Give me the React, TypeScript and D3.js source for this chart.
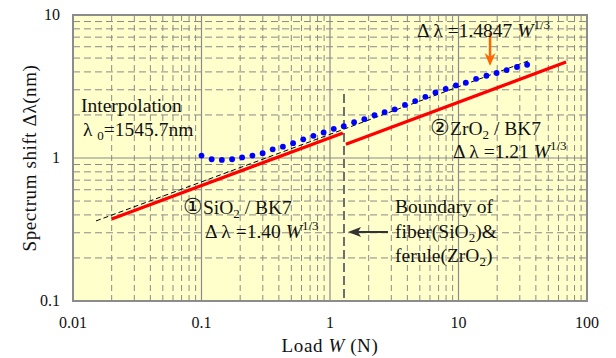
import * as d3 from 'd3'

// measured load points (N) and spectrum shift (nm)
const loadW = [0.1, 0.12, 0.144, 0.173, 0.207, 0.249, 0.299, 0.358, 0.43, 0.516, 0.619, 0.743, 0.892, 1.07, 1.28, 1.54, 1.85, 2.22, 2.66, 3.19, 3.83, 4.6, 5.52, 6.62, 7.95, 9.54, 11.4, 13.7, 16.5, 19.8, 23.7, 28.5, 34.2]
const shift = [1.04, 0.98, 0.97, 0.98, 1.01, 1.04, 1.08, 1.15, 1.2, 1.27, 1.35, 1.43, 1.51, 1.6, 1.67, 1.78, 1.87, 1.99, 2.09, 2.19, 2.35, 2.5, 2.68, 2.87, 3.04, 3.22, 3.36, 3.58, 3.76, 3.93, 4.12, 4.33, 4.49]

// fitted / theoretical lines (end points)
const fitW = [0.0151, 34.8]
const fitShift = [0.363, 4.77]
const sio2W = [0.02, 1.26]
const sio2Shift = [0.375, 1.495]
const zro2W = [1.33, 68.7]
const zro2Shift = [1.25, 4.69]
const boundaryW = 1.285
const boundaryTop = 2.8
const arrowW = 17.6
const arrowShift = [7.5, 4.4]

const xTickLabels = ['0.01', '0.1', '1', '10', '100']
const yTickLabels = ['0.1', '1', '10']

const W = 616
const H = 358
const m = { left: 73, right: 29, top: 15, bottom: 57 }
const serif = "'Liberation Serif', 'DejaVu Serif', 'Times New Roman', serif"

export default function App() {
  const x = d3.scaleLog().domain([0.01, 100]).range([m.left, W - m.right])
  const y = d3.scaleLog().domain([0.1, 10]).range([H - m.bottom, m.top])

  const xAll = x.ticks()
  const yAll = y.ticks()
  const isMajor = (v: number) => Math.abs(Math.log10(v) - Math.round(Math.log10(v))) < 1e-6
  const xMinor = xAll.filter(v => !isMajor(v))
  const yMinor = yAll.filter(v => !isMajor(v))
  const xMajor = xTickLabels.map(Number).slice(1, -1)
  const yMajor = yTickLabels.map(Number).slice(1, -1)

  const line = d3.line<[number, number]>().x(d => x(d[0])).y(d => y(d[1]))
  const zip = (a: number[], b: number[]) => a.map((v, i) => [v, b[i]] as [number, number])

  const [x0, x1] = x.range()
  const [y0, y1] = y.range()

  const ax = x(arrowW)
  const ayTop = y(arrowShift[0])
  const ayTip = y(arrowShift[1])

  const bx = x(boundaryW)
  const by = 232

  return (
    <svg width={W} height={H} style={{ position: 'absolute', left: 0, top: 0, background: '#fff', fontFamily: serif }}>
      <rect x={x0} y={y1} width={x1 - x0} height={y0 - y1} fill="#ffffcc" />
      {xMinor.map((v, i) => (
        <line key={'xm' + i} x1={x(v)} x2={x(v)} y1={y1} y2={y0} stroke="#8a8a8a" strokeWidth={1} strokeDasharray="6,4" />
      ))}
      {yMinor.map((v, i) => (
        <line key={'ym' + i} x1={x0} x2={x1} y1={y(v)} y2={y(v)} stroke="#8a8a8a" strokeWidth={1} strokeDasharray="7,4" />
      ))}
      {xMajor.map((v, i) => (
        <line key={'xM' + i} x1={x(v)} x2={x(v)} y1={y1} y2={y0} stroke="#8a8a8a" strokeWidth={1.2} />
      ))}
      {yMajor.map((v, i) => (
        <line key={'yM' + i} x1={x0} x2={x1} y1={y(v)} y2={y(v)} stroke="#8a8a8a" strokeWidth={1.2} />
      ))}
      <rect x={x0} y={y1} width={x1 - x0} height={y0 - y1} fill="none" stroke="#8c8c8c" strokeWidth={2} />

      {/* boundary */}
      <line x1={bx} x2={bx} y1={y(boundaryTop)} y2={y0} stroke="#6e6e6e" strokeWidth={2} strokeDasharray="9,4" />

      {/* lines */}
      <path d={line(zip(fitW, fitShift)) || ''} fill="none" stroke="#000" strokeWidth={1} strokeDasharray="5,3" />
      <path d={line(zip(sio2W, sio2Shift)) || ''} fill="none" stroke="#ff0000" strokeWidth={3.2} />
      <path d={line(zip(zro2W, zro2Shift)) || ''} fill="none" stroke="#ff0000" strokeWidth={3.2} />
      {loadW.map((w, i) => (
        <circle key={'p' + i} cx={x(w)} cy={y(shift[i])} r={2.9} fill="#0000ff" />
      ))}

      {/* orange arrow */}
      <line x1={ax} x2={ax} y1={ayTop} y2={ayTip - 8} stroke="#ff6600" strokeWidth={2.5} />
      <path d={`M${ax},${ayTip} L${ax - 5.5},${ayTip - 13} L${ax},${ayTip - 9} L${ax + 5.5},${ayTip - 13} Z`} fill="#ff6600" />

      {/* boundary arrow */}
      <line x1={bx + 12} x2={bx + 44} y1={by} y2={by} stroke="#333" strokeWidth={2} />
      <path d={`M${bx + 4},${by} L${bx + 17},${by - 5} L${bx + 14},${by} L${bx + 17},${by + 5} Z`} fill="#333" />

      {/* tick labels */}
      {xTickLabels.map(t => (
        <text key={'xt' + t} x={x(Number(t))} y={328} textAnchor="middle" fontSize={16} fill="#111">{t}</text>
      ))}
      {yTickLabels.map(t => (
        <text key={'yt' + t} x={60} y={y(Number(t)) + 5} textAnchor="end" fontSize={16} fill="#111">{t}</text>
      ))}

      {/* axis titles */}
      <text x={x(1)} y={352} textAnchor="middle" fontSize={19} fill="#111" letterSpacing={0.6}>
        Load <tspan fontStyle="italic">W</tspan> (N)
      </text>
      <text transform={`translate(36,${(y0 + y1) / 2}) rotate(-90)`} textAnchor="middle" fontSize={19} fill="#111" letterSpacing={0.6}>
        Spectrum shift Δλ(nm)
      </text>

      {/* annotations */}
      <g fontSize={19.5} fill="#111">
        <text x={81} y={112}>Interpolation</text>
        <text x={83} y={136}>λ <tspan fontSize={13} dy={4}>0</tspan><tspan dy={-4}>=1545.7nm</tspan></text>

        <text x={417} y={37}>Δ λ =1.4847 <tspan fontStyle="italic">W</tspan><tspan fontSize={13} dy={-8}>1/3</tspan></text>

        <text x={430} y={135}><tspan fontSize={22}>②</tspan>ZrO<tspan fontSize={13} dy={4}>2</tspan><tspan dy={-4}> / BK7</tspan></text>
        <text x={453} y={158}>Δ λ =1.21 <tspan fontStyle="italic">W</tspan><tspan fontSize={13} dy={-8}>1/3</tspan></text>

        <text x={183} y={214}><tspan fontSize={22}>①</tspan>SiO<tspan fontSize={13} dy={4}>2</tspan><tspan dy={-4}> / BK7</tspan></text>
        <text x={205} y={238}>Δ λ =1.40 <tspan fontStyle="italic">W</tspan><tspan fontSize={13} dy={-8}>1/3</tspan></text>

        <text x={395} y={213}>Boundary of</text>
        <text x={395} y={238}>fiber(SiO<tspan fontSize={13} dy={4}>2</tspan><tspan dy={-4}>)&amp;</tspan></text>
        <text x={395} y={262}>ferule(ZrO<tspan fontSize={13} dy={4}>2</tspan><tspan dy={-4}>)</tspan></text>
      </g>
    </svg>
  )
}
